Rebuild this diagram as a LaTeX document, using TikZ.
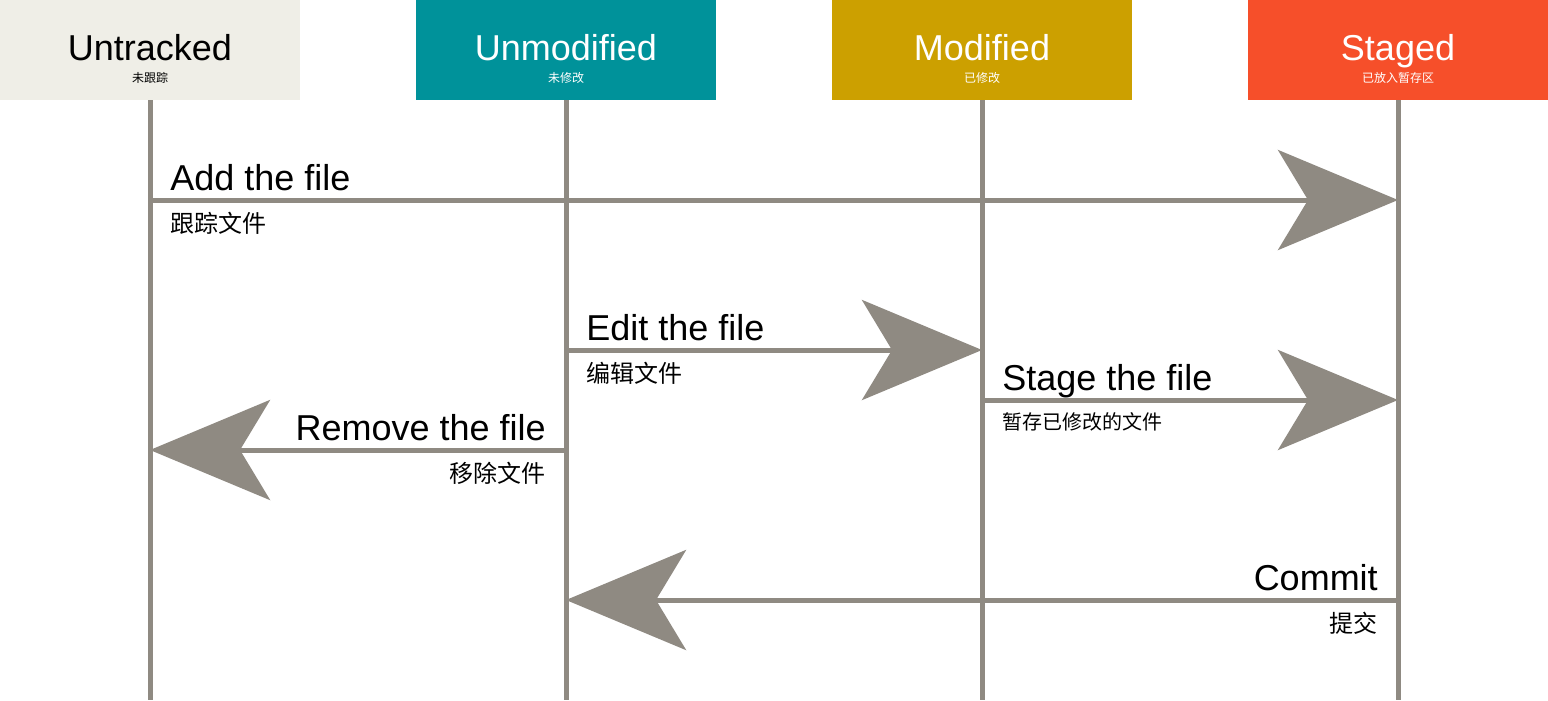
\documentclass[tikz,border=0pt]{standalone}
\usepackage{fontspec}
\setmainfont{Liberation Sans}
\newfontfamily\cjk{Noto Sans CJK SC}
\usetikzlibrary{arrows.meta}
\definecolor{gline}{HTML}{8F8A82}
\definecolor{cUntr}{HTML}{EFEEE7}
\definecolor{cUnmod}{HTML}{00929A}
\definecolor{cMod}{HTML}{CCA000}
\definecolor{cStaged}{HTML}{F64F2A}
\tikzset{
  hdr/.style={rectangle,inner sep=0pt,minimum width=225pt,minimum height=75pt,anchor=north west},
  ttl/.style={font=\fontsize{27}{30}\selectfont,anchor=base,inner sep=0pt},
  sub/.style={font=\cjk\fontsize{9}{10}\selectfont,anchor=base,inner sep=0pt},
  lane/.style={draw=gline,line width=3.75pt},
  arr/.style={draw=gline,line width=3.75pt,-{Stealth[length=90pt,width=75pt,inset=22.5pt,fill=gline]}},
  lbl/.style={font=\fontsize{27}{30}\selectfont,inner sep=0pt},
  clbl/.style={font=\cjk\fontsize{18}{20}\selectfont,inner sep=0pt},
  clbls/.style={font=\cjk\fontsize{15}{17}\selectfont,inner sep=0pt},
}
\begin{document}
\begin{tikzpicture}[x=0.75pt,y=-0.75pt]
\useasboundingbox (0,0) rectangle (1548,700);
% headers
\node[hdr,fill=cUntr] (hU) at (0,0) {};
\node[hdr,fill=cUnmod] (hN) at (416,0) {};
\node[hdr,fill=cMod] (hM) at (832,0) {};
\node[hdr,fill=cStaged] (hS) at (1248,0) {};
\node[ttl,text=black] (tU) at (150,60) {Untracked};
\node[sub,text=black] (sU) at (150,82) {未跟踪};
\node[ttl,text=white] (tN) at (566,60) {Unmodified};
\node[sub,text=white] (sN) at (566,82) {未修改};
\node[ttl,text=white] (tM) at (982,60) {Modified};
\node[sub,text=white] (sM) at (982,82) {已修改};
\node[ttl,text=white] (tS) at (1398,60) {Staged};
\node[sub,text=white] (sS) at (1398,82) {已放入暂存区};
% lanes
\coordinate (uT) at (150,100);
\coordinate (nT) at (566,100);
\coordinate (mT) at (982,100);
\coordinate (sT) at (1398,100);
\coordinate (uB) at (150,700);
\coordinate (nB) at (566,700);
\coordinate (mB) at (982,700);
\coordinate (sB) at (1398,700);
\draw[lane] (uT) -- (uB);
\draw[lane] (nT) -- (nB);
\draw[lane] (mT) -- (mB);
\draw[lane] (sT) -- (sB);
% connector points
\coordinate (u200) at (150,200);
\coordinate (s200) at (1398,200);
\coordinate (n350) at (566,350);
\coordinate (m350) at (982,350);
\coordinate (m400) at (982,400);
\coordinate (s400) at (1398,400);
\coordinate (n450) at (566,450);
\coordinate (u450) at (150,450);
\coordinate (s600) at (1398,600);
\coordinate (n600) at (566,600);
\draw[arr] (u200) -- (s200);
\draw[arr] (n350) -- (m350);
\draw[arr] (m400) -- (s400);
\draw[arr] (n450) -- (u450);
\draw[arr] (s600) -- (n600);
% labels
\node[lbl,anchor=base west] (l1) at (170,190) {Add the file};
\node[clbl,anchor=base west] (c1) at (170,232) {跟踪文件};
\node[lbl,anchor=base west] (l2) at (586,340) {Edit the file};
\node[clbl,anchor=base west] (c2) at (586,382) {编辑文件};
\node[lbl,anchor=base west] (l3) at (1002,390) {Stage the file};
\node[clbls,anchor=base west] (c3) at (1002,429) {暂存已修改的文件};
\node[lbl,anchor=base east] (l4) at (546,440) {Remove the file};
\node[clbl,anchor=base east] (c4) at (546,482) {移除文件};
\node[lbl,anchor=base east] (l5) at (1378,590) {Commit};
\node[clbl,anchor=base east] (c5) at (1378,632) {提交};
\end{tikzpicture}
\end{document}
